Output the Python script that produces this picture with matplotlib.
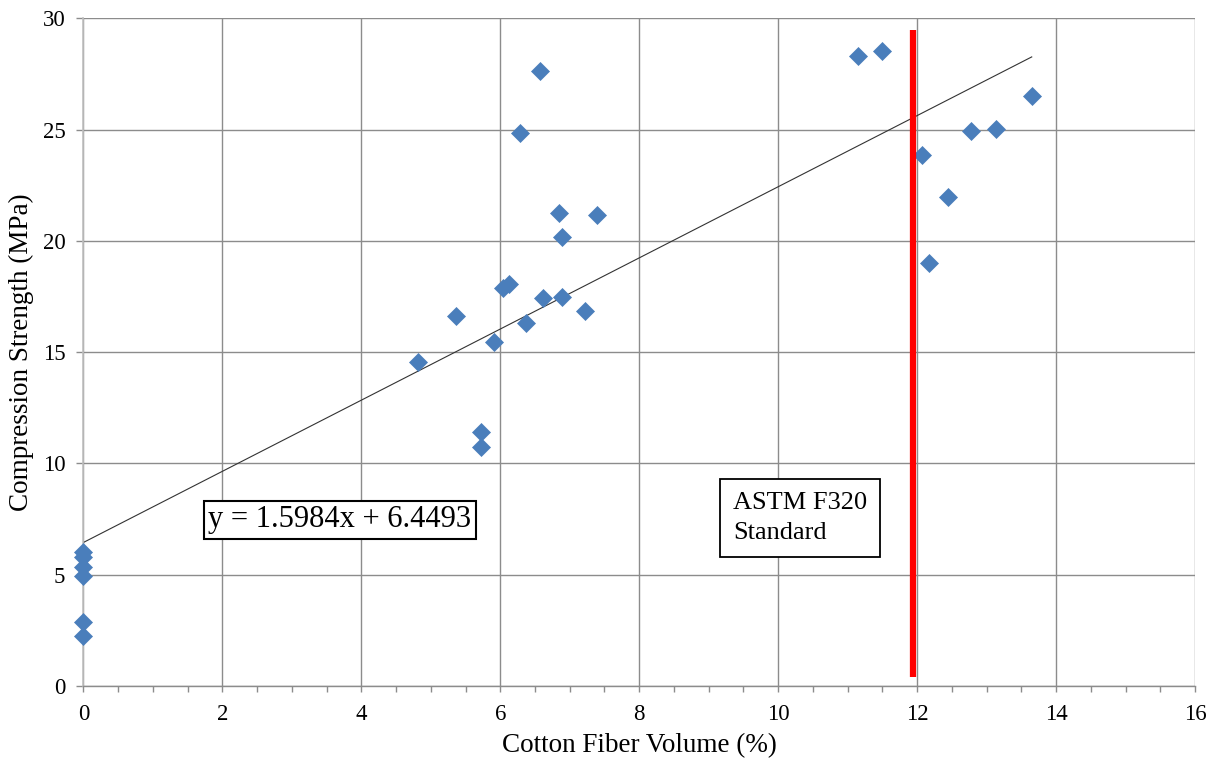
import matplotlib
matplotlib.use("Agg")
import matplotlib.pyplot as plt
import numpy as np
from matplotlib.ticker import MultipleLocator

plt.rcParams['font.family'] = ['Liberation Serif', 'DejaVu Serif']

# Cotton fiber volume (%) and measured compression strength (MPa)
fiber_volume = [0, 0, 0, 0, 0, 0,
                4.81, 5.36, 5.72, 5.72, 5.91, 6.04, 6.12, 6.29, 6.37, 6.57,
                6.61, 6.85, 6.89, 6.89, 7.22, 7.39,
                11.15, 11.49, 12.07, 12.17, 12.45, 12.77, 13.14, 13.65]
strength = [6.03, 5.81, 5.36, 4.95, 2.86, 2.25,
            14.57, 16.64, 11.40, 10.75, 15.47, 17.87, 18.06, 24.83, 16.29, 27.64,
            17.44, 21.26, 20.16, 17.49, 16.85, 21.16,
            28.32, 28.54, 23.87, 18.99, 21.98, 24.95, 25.04, 26.52]

# Linear trendline
slope = 1.5984
intercept = 6.4493

# ASTM F320 standard reference line
astm_x = 11.94
astm_y = [0.42, 29.47]

x_ticks = [0, 2, 4, 6, 8, 10, 12, 14, 16]
y_ticks = [0, 5, 10, 15, 20, 25, 30]

fig = plt.figure(figsize=(12.2, 7.65), dpi=100)
ax = fig.add_axes([0.0684, 0.1033, 0.9795 - 0.0684, 0.976 - 0.1033])

ax.set_xlim(0, 16)
ax.set_ylim(0, 30)
ax.set_xticks(x_ticks)
ax.set_yticks(y_ticks)
ax.xaxis.set_minor_locator(MultipleLocator(0.5))

ax.grid(True, which='major', color='#8c8c8c', linewidth=1.0, zorder=0)
ax.set_axisbelow(True)

for side in ['top', 'right']:
    ax.spines[side].set_visible(False)
ax.spines['left'].set_color('#bfbfbf')
ax.spines['left'].set_linewidth(1.2)
ax.spines['bottom'].set_color('#8c8c8c')
ax.spines['bottom'].set_linewidth(1.0)

ax.tick_params(axis='y', which='major', direction='out', length=5, width=1.0,
               color='#8c8c8c', labelsize=16.5, pad=8)
ax.tick_params(axis='x', which='both', direction='out', length=4, width=1.0,
               color='#8c8c8c', labelsize=16.5, pad=9)

# Trendline across the data range
xt = np.array([0, max(fiber_volume)])
ax.plot(xt, slope * xt + intercept, color='#333333', linewidth=0.8, zorder=2)

ax.plot(fiber_volume, strength, linestyle='none', marker='D', markersize=8.8,
        markerfacecolor='#4a7ebb', markeredgecolor='#4a7ebb', markeredgewidth=0.5,
        zorder=3, clip_on=False)

ax.plot([astm_x, astm_x], astm_y, color='#ff0000', linewidth=4.5,
        solid_capstyle='butt', zorder=4)

ax.text(1.8, 7.47, f"y = {slope}x + {intercept}", fontsize=22,
        ha='left', va='center', zorder=5,
        bbox=dict(boxstyle='square,pad=0.15', facecolor='white',
                  edgecolor='black', linewidth=1.5))

ax.text(9.35, 7.55, "ASTM F320\nStandard", fontsize=19, linespacing=1.5,
        ha='left', va='center', zorder=5,
        bbox=dict(boxstyle='square,pad=0.5', facecolor='white',
                  edgecolor='black', linewidth=1.3))

ax.set_xlabel("Cotton Fiber Volume (%)", fontsize=19.5, labelpad=6)
ax.set_ylabel("Compression Strength (MPa)", fontsize=19.5, labelpad=6)

fig.savefig("out.png", dpi=100)
